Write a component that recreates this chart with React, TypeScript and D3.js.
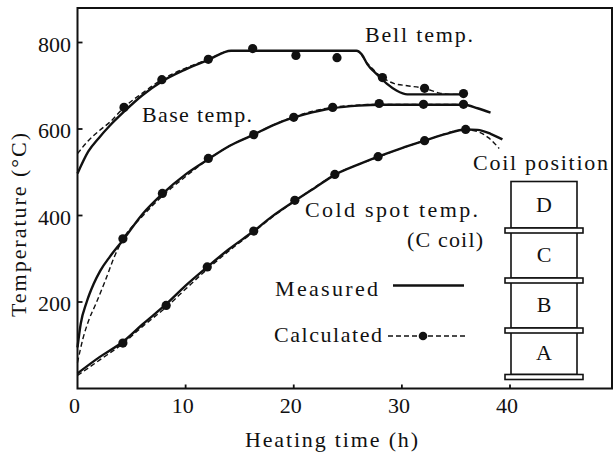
import React from "react";
import * as d3 from "d3";

// ---- data (heating time h, temperature °C) ----
const bellMeasured: [number, number][] = [[0,497],[1,548],[2,580],[3,608],[4.3,640],[6,678],[7.8,710],[10,738],[12.1,760],[14.2,781],[20,781],[25.8,781],[26.3,772],[26.8,750],[27.7,726],[28.6,705],[29.5,689],[30.5,680],[36,680]];
const bellCalcLine: [number, number][] = [[0,543],[1,573],[2,596],[3,616],[4.3,650],[6,683],[7.8,714],[10,741],[12.1,761],[14.2,781],[25.8,781],[26.8,752],[28.2,719],[29.3,705],[30.5,700],[32.1,694],[33.5,683],[34.5,680],[36,680]];
const bellCalcDots: [number, number][] = [[4.3,650],[7.8,714],[12.1,761],[16.2,786],[20.2,770],[24.0,765],[28.2,719],[32.1,694],[35.7,682]];

const baseMeasured: [number, number][] = [[0,95],[0.3,150],[0.85,200],[1.5,242],[2.1,272],[3,305],[4.2,343],[6,403],[7.85,450],[10,495],[12.1,530],[14,560],[16.3,587],[18,608],[20,627],[21,634],[23.6,648],[26,654],[28,656],[32,656],[35.7,656],[37,648],[38.2,638]];
const baseCalcLine: [number, number][] = [[0,60],[0.5,115],[1,155],[1.7,196],[2.5,245],[3.5,310],[4.2,345],[6,398],[7.85,445],[10,490],[12.1,530],[14,560],[16.3,587],[18,608],[20,628],[23.6,650],[28,657],[35.7,657]];
const baseCalcDots: [number, number][] = [[4.2,346],[7.85,451],[12.1,532],[16.3,587],[20.0,627],[23.6,650],[27.9,659],[32.0,657],[35.7,657]];

const coldMeasured: [number, number][] = [[0,35],[2,72],[4.2,108],[6,148],[8.2,195],[10,238],[12,281],[14,322],[16.3,364],[18,398],[20.1,434],[22,465],[23.8,494],[26,518],[27.8,536],[30,556],[32.1,573],[34,588],[35.9,599],[37,598],[38.2,589],[39.3,576]];
const coldCalcLine: [number, number][] = [[0,30],[2,65],[4.2,104],[6,143],[8.2,188],[10,230],[12,276],[14,318],[16.3,362],[18,396],[20.1,433],[23.8,494],[27.8,535],[32.1,573],[35.9,598],[37,594],[38,580],[39,555]];
const coldCalcDots: [number, number][] = [[4.2,105],[8.2,192],[12.0,281],[16.3,364],[20.1,435],[23.8,495],[27.8,536],[32.1,573],[35.9,599]];

const xTicks = [0, 10, 20, 30, 40];
const yTicks = [200, 400, 600, 800];
const coilLabels = ["D", "C", "B", "A"];

const FONT = "'Liberation Serif', 'DejaVu Serif', serif";
const INK = "#111";

export default function App() {
  const x = d3.scaleLinear().domain([0, 40]).range([77.5, 510]);
  const y = d3.scaleLinear().domain([0, 800]).range([388.5, 42.5]);
  const line = d3.line<[number, number]>().x(d => x(d[0])).y(d => y(d[1])).curve(d3.curveMonotoneX);

  const measured = [bellMeasured, baseMeasured, coldMeasured];
  const calcLines = [bellCalcLine, baseCalcLine, coldCalcLine];
  const calcDots = [bellCalcDots, baseCalcDots, coldCalcDots];

  const left = x(0), right = 612, top = 8, bottom = y(0);

  // coil diagram geometry
  const plateX0 = 505, plateX1 = 583, boxX0 = 511, boxX1 = 577;
  const plates = [228, 278, 328, 374.5];
  const boxTops = [181.5, 231, 281, 331];

  const T = (props: any) => (
    <text fontFamily={FONT} fontSize={22} fill={INK} lengthAdjust="spacing" {...props} />
  );

  return (
    <svg width={615} height={460} style={{ position: "absolute", left: 0, top: 0, background: "#fff" }}>
      <rect x={0} y={0} width={615} height={460} fill="#fff" />
      {/* frame */}
      <rect x={left} y={top} width={right - left} height={bottom - top} fill="none" stroke={INK} strokeWidth={2} />
      {/* ticks */}
      {xTicks.map(t => (
        <g key={"xt" + t}>
          {t > 0 && <line x1={x(t)} x2={x(t)} y1={bottom} y2={bottom - 4} stroke={INK} strokeWidth={1.8} />}
          <T x={x(t) - 3} y={413} textAnchor="middle">{t}</T>
        </g>
      ))}
      {yTicks.map(t => (
        <g key={"yt" + t}>
          <line x1={left} x2={left + 5} y1={y(t)} y2={y(t)} stroke={INK} strokeWidth={1.8} />
          <T x={71} y={y(t) + 9} textAnchor="end">{t}</T>
        </g>
      ))}
      {/* axis titles */}
      <T x={245} y={447} textLength={173}>Heating time (h)</T>
      <T transform="translate(26,317) rotate(-90)" x={0} y={0} textLength={184}>Temperature (°C)</T>

      {/* calculated dashed lines */}
      {calcLines.map((d, i) => (
        <path key={"c" + i} d={line(d) || ""} fill="none" stroke={INK} strokeWidth={1.4} strokeDasharray="5,3" />
      ))}
      {/* measured solid lines */}
      {measured.map((d, i) => (
        <path key={"m" + i} d={line(d) || ""} fill="none" stroke={INK} strokeWidth={2.4} />
      ))}
      {/* calculated dots */}
      {calcDots.map((s, i) =>
        s.map((d, j) => <circle key={"d" + i + "-" + j} cx={x(d[0])} cy={y(d[1])} r={4.6} fill={INK} />)
      )}

      {/* curve labels */}
      <T x={365} y={41.5} textLength={108}>Bell temp.</T>
      <T x={142} y={121.5} textLength={110}>Base temp.</T>
      <T x={305} y={216.5} textLength={173}>Cold spot temp.</T>
      <T x={407} y={247} textLength={76}>(C coil)</T>
      <T x={473} y={170} textLength={135}>Coil position</T>

      {/* legend */}
      <T x={275} y={296} textLength={103}>Measured</T>
      <line x1={393} x2={464} y1={285.5} y2={285.5} stroke={INK} strokeWidth={2.4} />
      <T x={274} y={342} textLength={108}>Calculated</T>
      <line x1={388} x2={465} y1={336} y2={336} stroke={INK} strokeWidth={1.4} strokeDasharray="5,3" />
      <circle cx={423} cy={336} r={4.3} fill={INK} />

      {/* coil stack */}
      {boxTops.map((t, i) => (
        <g key={"box" + i}>
          <rect x={boxX0} y={t} width={boxX1 - boxX0} height={plates[i] - t} fill="#fff" stroke={INK} strokeWidth={1.6} />
          <T x={(boxX0 + boxX1) / 2} y={(t + plates[i]) / 2 + 7.5} textAnchor="middle">{coilLabels[i]}</T>
        </g>
      ))}
      {plates.map((p, i) => (
        <rect key={"pl" + i} x={plateX0} y={p} width={plateX1 - plateX0} height={5} fill="#fff" stroke={INK} strokeWidth={1.6} />
      ))}
    </svg>
  );
}
